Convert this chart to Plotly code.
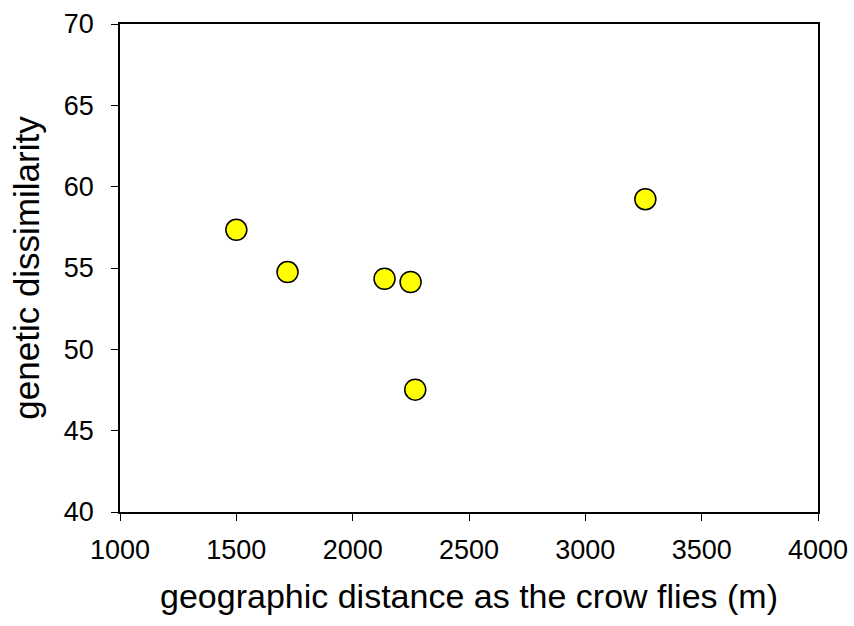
import plotly.graph_objects as go

distance_m = [1500, 1720, 2137, 2249, 2269, 3258]
dissimilarity = [57.35, 54.75, 54.34, 54.14, 47.52, 59.23]

fig = go.Figure()
fig.add_trace(go.Scatter(
    x=distance_m, y=dissimilarity, mode="markers",
    marker=dict(size=21, color="#FFFF00", line=dict(color="black", width=1.5)),
    showlegend=False,
))

font = "Liberation Sans, Arial, sans-serif"
fig.update_layout(
    width=854, height=626,
    margin=dict(l=120, r=36, t=24, b=114),
    plot_bgcolor="white", paper_bgcolor="white",
    font=dict(family=font, color="black", size=27),
)
fig.update_xaxes(
    range=[1000, 4000], tickvals=[1000, 1500, 2000, 2500, 3000, 3500, 4000],
    ticks="outside", ticklen=7, tickwidth=1.2, tickcolor="black",
    showline=True, linecolor="black", linewidth=1.5, mirror=True,
    showgrid=False, zeroline=False, tickfont=dict(size=27),
    ticklabelstandoff=6, automargin=False,
    title=dict(text="geographic distance as the crow flies (m)", font=dict(size=34), standoff=20),
)
fig.update_yaxes(
    range=[40, 70], tickvals=[40, 45, 50, 55, 60, 65, 70],
    ticks="outside", ticklen=7, tickwidth=1.2, tickcolor="black",
    showline=True, linecolor="black", linewidth=1.5, mirror=True,
    showgrid=False, zeroline=False, tickfont=dict(size=27),
    ticklabelstandoff=12, automargin=False,
    title=dict(text="genetic dissimilarity", font=dict(size=35), standoff=14),
)
fig.write_html("out.html")
